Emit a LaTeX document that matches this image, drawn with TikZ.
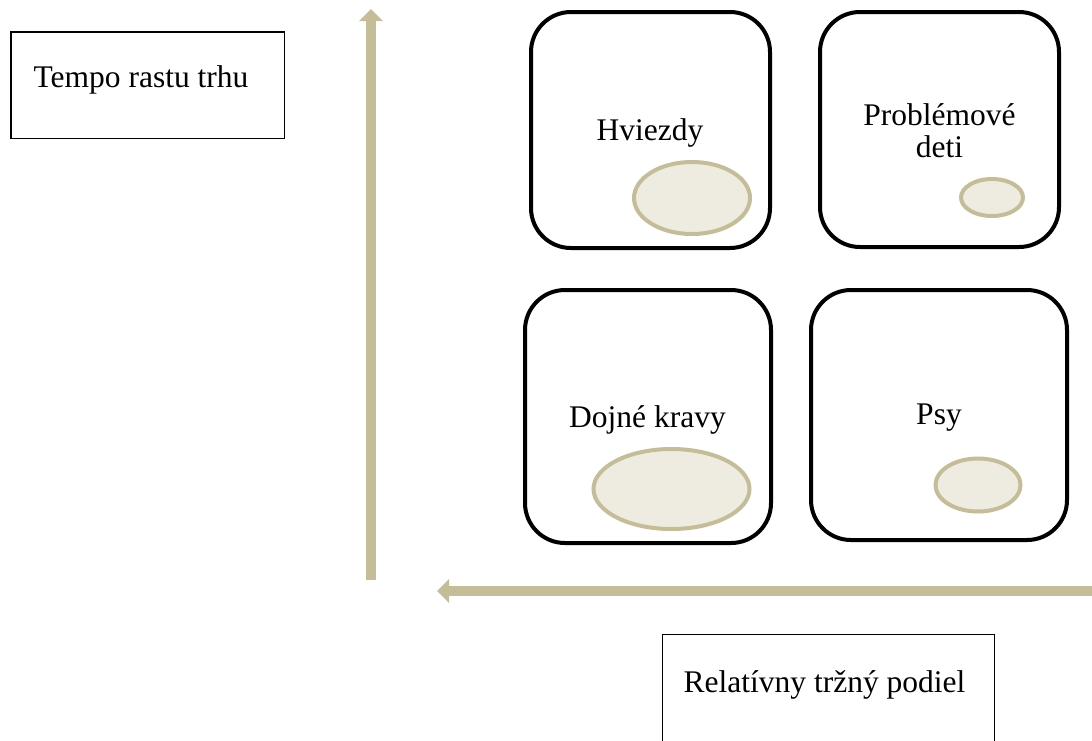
\documentclass[tikz,border=0pt]{standalone}
\usepackage{fontspec}
\setmainfont{Liberation Serif}
\usetikzlibrary{arrows.meta,shapes.geometric}
\definecolor{tanline}{HTML}{C4BD97}
\definecolor{tanfill}{HTML}{EEECE1}
\tikzset{
  x=1pt, y=-1pt,
  quad/.style={draw=black, line width=4pt, rounded corners=40pt, fill=white,
    inner sep=0pt, outer sep=0pt},
  blob/.style={ellipse, draw=tanline, line width=4pt, fill=tanfill,
    inner sep=0pt, outer sep=0pt},
  labelbox/.style={draw=black, line width=1.5pt, inner sep=0pt, outer sep=0pt},
  txt/.style={font=\fontsize{31.5pt}{32pt}\selectfont, inner sep=0pt, anchor=base},
  axis/.style={draw=tanline, line width=10pt,
    -{Triangle[width=23pt,length=12pt]}}
}
\begin{document}
\begin{tikzpicture}
\clip (0,0) rectangle (1092,740);
\fill[white] (0,0) rectangle (1092,740);
% axes
\coordinate (vs) at (371,580);
\coordinate (ve) at (371,9);
\coordinate (hs) at (1092,591);
\coordinate (he) at (437,591);
\draw[axis] (vs) -- (ve);
\draw[axis] (hs) -- (he);
% label boxes
\node[labelbox, minimum width=273.5pt, minimum height=106.5pt] (tbox) at (147.5,85) {};
\node[txt] (ttext) at (141,87) {Tempo rastu trhu};
\node[labelbox, minimum width=332pt, minimum height=125pt] (rbox) at (828.5,697) {};
\node[txt] (rtext) at (824.5,692) {Relatívny tržný podiel};
% quadrants
\node[quad, minimum width=239pt, minimum height=236pt] (q1) at (650.5,130) {};
\node[quad, minimum width=239pt, minimum height=235pt] (q2) at (939.5,129.5) {};
\node[quad, minimum width=246pt, minimum height=253pt] (q3) at (648,416.5) {};
\node[quad, minimum width=256pt, minimum height=250pt] (q4) at (939,415) {};
% texts
\node[txt] (t1) at (650,140) {Hviezdy};
\node[txt, align=center] (t2) at (939.5,157) {Problémové\\deti};
\node[txt] (t3) at (647.5,427) {Dojné kravy};
\node[txt] (t4) at (939,424) {Psy};
% ellipses
\node[blob, minimum width=116pt, minimum height=72pt] (e1) at (692,198) {};
\node[blob, minimum width=62pt, minimum height=37pt] (e2) at (992,197.5) {};
\node[blob, minimum width=156pt, minimum height=80pt] (e3) at (671.5,489) {};
\node[blob, minimum width=85pt, minimum height=53pt] (e4) at (978,485) {};
\end{tikzpicture}
\end{document}
